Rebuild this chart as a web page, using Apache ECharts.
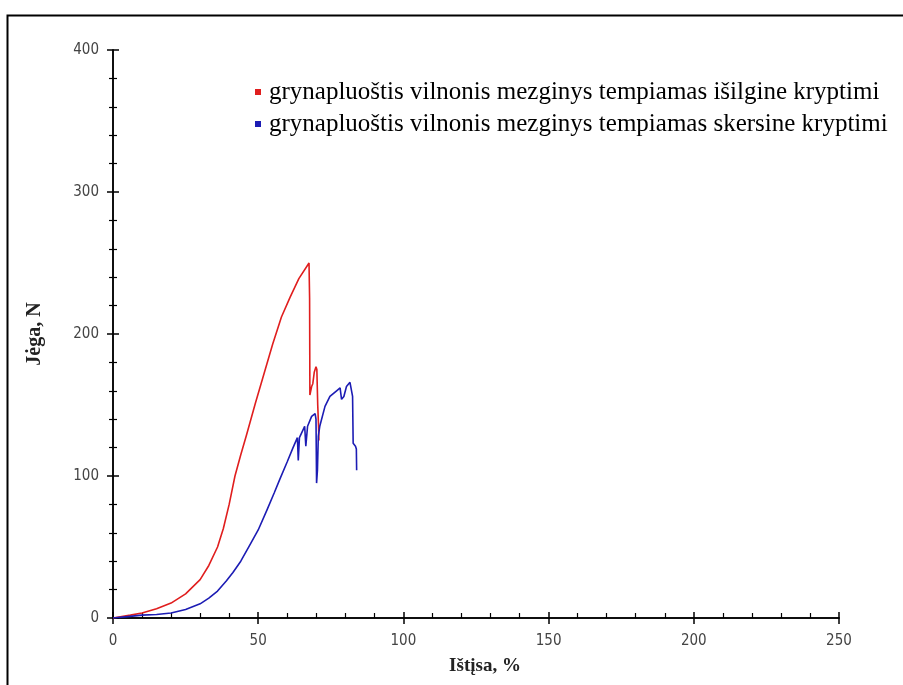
<!DOCTYPE html>
<html>
<head>
<meta charset="utf-8">
<script src="https://cdn.jsdelivr.net/npm/echarts@6/dist/echarts.min.js"></script>
<style>html,body{margin:0;padding:0;background:#fff}#c{width:903px;height:685px}</style>
</head>
<body>
<div id="c"></div>
<script>
const seriesNames = [
  'grynapluoštis vilnonis mezginys tempiamas išilgine kryptimi',
  'grynapluoštis vilnonis mezginys tempiamas skersine kryptimi'
];
const xAxisName = 'Ištįsa, %';
const yAxisName = 'Jėga, N';
const xTicks = [0, 50, 100, 150, 200, 250];
const yTicks = [0, 100, 200, 300, 400];

const redData = [
  [0,0],[3,1],[6,2],[10,3.5],[15,6.5],[20,10.5],[25,17],[30,27],[33,37],[36,50],[38,63],
  [40,80],[42,100],[44,115],[46,129],[49,151],[52,172],[55,193],[58,212],[61,226],[64,239],
  [67.5,250],[67.7,225],[67.8,157],[68.1,158],[68.4,163],[68.8,165],[69.3,173],[69.9,177],
  [70.2,175],[70.5,150],[70.8,134],[70.9,125]
];
const blueData = [
  [0,0],[5,1],[10,2],[15,2.5],[20,3.5],[25,6],[30,10],[33,14],[36,19],[39,26],[41.3,32],
  [44,40],[47,51],[50,62],[53,76],[55.5,88],[57.5,98],[60,110],[62,120],[63.5,127],[63.8,111],
  [64.2,127],[66,135],[66.4,121],[67,135],[68.4,142],[69.6,144],[69.9,140],[70.1,95],[70.4,104],
  [70.7,128],[71.2,135],[73,149],[74.7,156],[77,160],[78.2,162],[78.7,154],[79.5,156],[80.4,163],
  [81.6,166],[82.2,167],[82.5,156],[82.7,123],[83.5,121],[83.8,119],[83.9,104]
];

const chart = echarts.init(document.getElementById('c'), null, {renderer: 'canvas'});
const labelFont = "'Liberation Sans Narrow', 'DejaVu Sans Condensed', 'Arial Narrow', sans-serif";
const serif = "'Liberation Serif', 'DejaVu Serif', serif";

function xAxisCfg(inner) {
  return {
    type: 'value', min: xTicks[0], max: xTicks[xTicks.length - 1], interval: 50, position: 'bottom',
    axisLine: {show: true, onZero: false, lineStyle: {color: '#000', width: 1.5}},
    axisTick: {show: true, inside: inner, length: 6, lineStyle: {color: '#000', width: 1.5}},
    minorTick: {show: inner, splitNumber: 5, length: 5, lineStyle: {color: '#000', width: 1.2}},
    axisLabel: {show: !inner, color: '#444', fontFamily: labelFont, fontSize: 15, margin: 16},
    splitLine: {show: false}, minorSplitLine: {show: false}
  };
}
function yAxisCfg(inner) {
  return {
    type: 'value', min: yTicks[0], max: yTicks[yTicks.length - 1], interval: 100, position: 'left',
    name: inner ? '' : yAxisName, nameLocation: 'middle', nameGap: 68, nameRotate: 90,
    nameTextStyle: {fontFamily: serif, fontWeight: 'bold', fontSize: 20, color: '#222'},
    axisLine: {show: true, onZero: false, lineStyle: {color: '#000', width: 1.5}},
    axisTick: {show: true, inside: inner, length: 6, lineStyle: {color: '#000', width: 1.5}},
    minorTick: {show: true, splitNumber: 5, length: 4, lineStyle: {color: '#000', width: 1.2}},
    axisLabel: {show: !inner, color: '#444', fontFamily: labelFont, fontSize: 15, margin: 14},
    splitLine: {show: false}, minorSplitLine: {show: false}
  };
}

chart.setOption({
  animation: false,
  backgroundColor: '#fff',
  grid: {left: 113, right: 64, top: 50, bottom: 67, containLabel: false},
  xAxis: [xAxisCfg(true), xAxisCfg(false)],
  yAxis: [yAxisCfg(true), yAxisCfg(false)],
  legend: {
    orient: 'vertical', left: 255, top: 76, icon: 'rect', itemWidth: 6, itemHeight: 6,
    itemGap: 0, padding: 0,
    textStyle: {fontFamily: serif, fontSize: 25, lineHeight: 32, color: '#000', padding: [0, 0, 0, 3]},
    data: seriesNames
  },
  graphic: [
    {type: 'rect', left: 5, top: 13, shape: {width: 1000, height: 800},
     style: {fill: 'none', stroke: '#000', lineWidth: 2}, silent: true},
    {type: 'text', x: 485, y: 666, style: {text: xAxisName, fontFamily: serif, fontWeight: 'bold', fontSize: 19,
      fill: '#222', align: 'center', verticalAlign: 'middle'}}
  ],
  series: [
    {name: seriesNames[0], type: 'line', data: redData, showSymbol: false, symbol: 'none',
     xAxisIndex: 0, yAxisIndex: 0, color: '#e01e1e', lineStyle: {width: 1.6, color: '#e01e1e'}},
    {name: seriesNames[1], type: 'line', data: blueData, showSymbol: false, symbol: 'none',
     xAxisIndex: 0, yAxisIndex: 0, color: '#1c1cb4', lineStyle: {width: 1.6, color: '#1c1cb4'}}
  ]
});
</script>
</body>
</html>
